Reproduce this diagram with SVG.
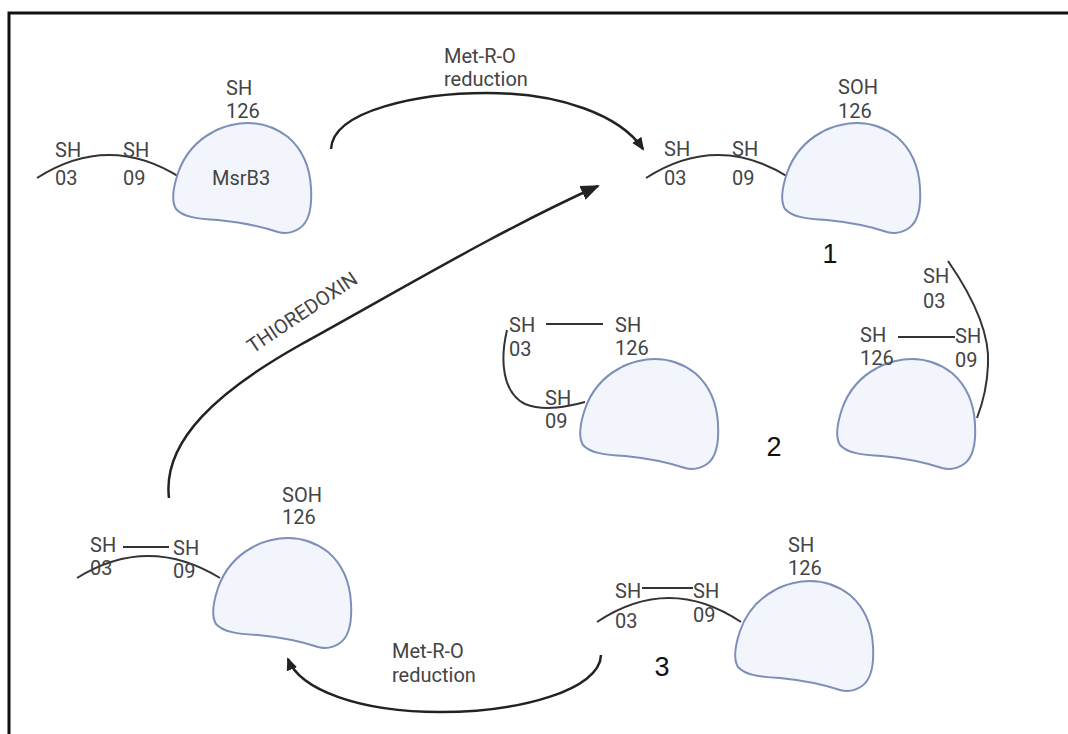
<svg xmlns="http://www.w3.org/2000/svg" xmlns:xlink="http://www.w3.org/1999/xlink" width="1068" height="734" viewBox="0 0 1068 734">
<style>
.t{font-family:Roboto,"Liberation Sans",sans-serif;font-size:20px;fill:#444}
.n{font-family:"Liberation Sans",Arial,sans-serif;font-size:27px;fill:#111;text-anchor:middle}
.blob{fill:#f2f6fc;stroke:#7d8fb8;stroke-width:2}
.chain{fill:none;stroke:#333;stroke-width:2}
.arr{fill:none;stroke:#222;stroke-width:2.5}
.frame{fill:none;stroke:#111;stroke-width:3}
</style>
<defs>
<path id="blob" d="M0,0 C15,0 27,4 40,14 C55,27 62,45 63,65 C64,82 62,98 52,105 C45,110 38,111 30,109 C15,104 0,100 -30,97 C-50,96 -65,94 -72,86 C-77,78 -75,65 -70,50 C-63,30 -50,17 -35,9 C-25,3 -10,0 0,0 Z"/>
<marker id="ah" markerUnits="userSpaceOnUse" markerWidth="14" markerHeight="14" viewBox="0 0 14 14" refX="11" refY="7" orient="auto"><path d="M0,1.5 L13,7 L0,12.5 Z" fill="#222"/></marker>
<marker id="ahb" markerUnits="userSpaceOnUse" markerWidth="20" markerHeight="18" viewBox="0 0 20 18" refX="17" refY="9" orient="auto"><path d="M0,1.5 L19,9 L0,16.5 Z" fill="#222"/></marker>
</defs>
<rect width="1068" height="734" fill="#fff"/>
<path class="frame" d="M9,734 V13 H1068"/>

<g id="msrb3">
<path class="chain" d="M37,178 Q109,132 181,178"/>
<use xlink:href="#blob" class="blob" x="248" y="123"/>
<text class="t"><tspan x="226" y="95">SH</tspan><tspan x="226" y="118">126</tspan></text>
<text class="t"><tspan x="55" y="157">SH</tspan><tspan x="55" y="185">03</tspan></text>
<text class="t"><tspan x="123" y="157">SH</tspan><tspan x="123" y="185">09</tspan></text>
<text class="t" x="212" y="185">MsrB3</text>
</g>

<g id="state1">
<path class="chain" d="M646,178 Q718,132 790,178"/>
<use xlink:href="#blob" class="blob" x="857" y="123"/>
<text class="t"><tspan x="838" y="94">SOH</tspan><tspan x="838" y="118">126</tspan></text>
<text class="t"><tspan x="664" y="156">SH</tspan><tspan x="664" y="185">03</tspan></text>
<text class="t"><tspan x="732" y="156">SH</tspan><tspan x="732" y="185">09</tspan></text>
<text class="n" x="830" y="263">1</text>
</g>

<g id="state2a">
<use xlink:href="#blob" class="blob" x="655" y="359"/>
<path class="chain" d="M507,330 C500,360 502,392 525,404 C545,412 570,406 585,402"/>
<path class="chain" d="M546,324 H603"/>
<text class="t"><tspan x="509" y="332">SH</tspan><tspan x="509" y="356">03</tspan></text>
<text class="t"><tspan x="615" y="332">SH</tspan><tspan x="615" y="355">126</tspan></text>
<text class="t"><tspan x="545" y="405">SH</tspan><tspan x="545" y="428">09</tspan></text>
</g>

<g id="state2b">
<use xlink:href="#blob" class="blob" x="912" y="359"/>
<path class="chain" d="M948,261 C975,300 990,335 988,365 C987,390 982,405 977,418"/>
<path class="chain" d="M898,337 H955"/>
<text class="t"><tspan x="923" y="283">SH</tspan><tspan x="923" y="308">03</tspan></text>
<text class="t"><tspan x="860" y="342">SH</tspan><tspan x="860" y="365">126</tspan></text>
<text class="t"><tspan x="955" y="343">SH</tspan><tspan x="955" y="367">09</tspan></text>
</g>
<text id="label2" class="n" x="774" y="456">2</text>

<g id="state3">
<path class="chain" d="M597,622 Q669,574 741,622"/>
<use xlink:href="#blob" class="blob" x="810" y="581"/>
<path class="chain" d="M642,588 H693"/>
<text class="t"><tspan x="788" y="552">SH</tspan><tspan x="788" y="575">126</tspan></text>
<text class="t"><tspan x="615" y="598">SH</tspan><tspan x="615" y="628">03</tspan></text>
<text class="t"><tspan x="693" y="598">SH</tspan><tspan x="693" y="622">09</tspan></text>
<text class="n" x="662" y="676">3</text>
</g>

<g id="state4">
<path class="chain" d="M77,578 Q148,534 220,578"/>
<use xlink:href="#blob" class="blob" x="288" y="538"/>
<path class="chain" d="M123,547 H169"/>
<text class="t"><tspan x="282" y="502">SOH</tspan><tspan x="282" y="524">126</tspan></text>
<text class="t"><tspan x="90" y="552">SH</tspan><tspan x="90" y="575">03</tspan></text>
<text class="t"><tspan x="173" y="555">SH</tspan><tspan x="173" y="578">09</tspan></text>
</g>

<g id="connectors">
<path class="arr" d="M331,149 C333,110 420,93 487,93 C560,93 620,115 643,149" marker-end="url(#ah)"/>
<text class="t"><tspan x="444" y="63">Met-R-O</tspan><tspan x="444" y="86">reduction</tspan></text>
<path class="arr" d="M169,498 C162,440 220,390 300,345 C400,290 500,230 598,186" marker-end="url(#ahb)"/>
<text class="t" text-anchor="middle" transform="translate(306,318) rotate(-34)">THIOREDOXIN</text>
<path class="arr" d="M601,655 C600,690 520,712 440,712 C360,712 300,690 288,659" marker-end="url(#ah)"/>
<text class="t"><tspan x="392" y="658">Met-R-O</tspan><tspan x="392" y="682">reduction</tspan></text>
</g>
</svg>
